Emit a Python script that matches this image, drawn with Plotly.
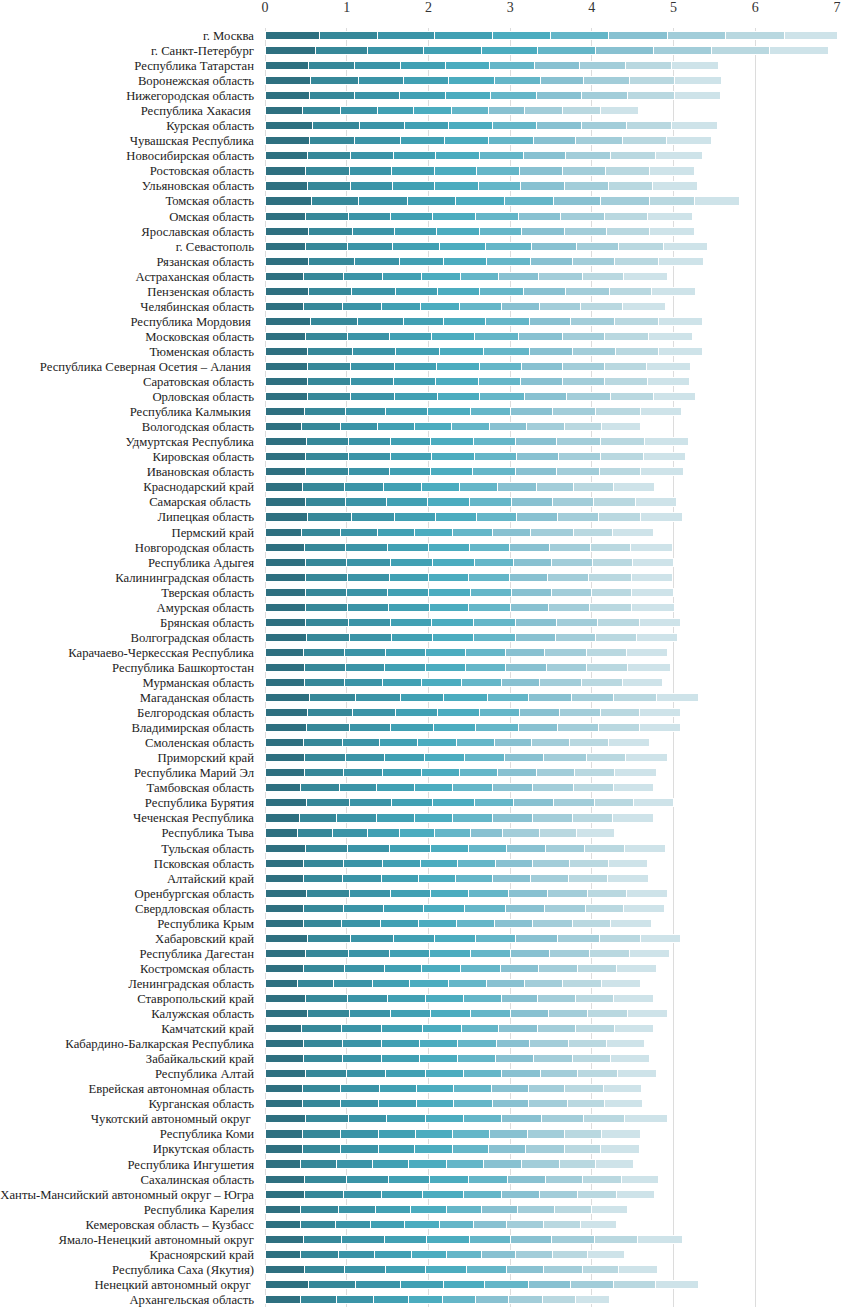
import plotly.graph_objects as go

regions = [
    "г. Москва", "г. Санкт-Петербург", "Республика Татарстан", "Воронежская область",
    "Нижегородская область", "Республика Хакасия\u00a0", "Курская область", "Чувашская Республика",
    "Новосибирская область", "Ростовская область", "Ульяновская область", "Томская область",
    "Омская область", "Ярославская область", "г. Севастополь", "Рязанская область",
    "Астраханская область", "Пензенская область", "Челябинская область", "Республика Мордовия\u00a0",
    "Московская область", "Тюменская область", "Республика Северная Осетия – Алания\u00a0",
    "Саратовская область", "Орловская область", "Республика Калмыкия\u00a0", "Вологодская область",
    "Удмуртская Республика", "Кировская область", "Ивановская область", "Краснодарский край",
    "Самарская область\u00a0", "Липецкая область", "Пермский край", "Новгородская область",
    "Республика Адыгея", "Калининградская область", "Тверская область", "Амурская область",
    "Брянская область", "Волгоградская область", "Карачаево-Черкесская Республика",
    "Республика Башкортостан", "Мурманская область", "Магаданская область", "Белгородская область",
    "Владимирская область", "Смоленская область", "Приморский край", "Республика Марий Эл",
    "Тамбовская область", "Республика Бурятия", "Чеченская Республика", "Республика Тыва",
    "Тульская область", "Псковская область", "Алтайский край", "Оренбургская область",
    "Свердловская область", "Республика Крым", "Хабаровский край", "Республика Дагестан",
    "Костромская область", "Ленинградская область", "Ставропольский край", "Калужская область",
    "Камчатский край", "Кабардино-Балкарская Республика", "Забайкальский край", "Республика Алтай",
    "Еврейская автономная область", "Курганская область", "Чукотский автономный округ\u00a0",
    "Республика Коми", "Иркутская область", "Республика Ингушетия", "Сахалинская область",
    "Ханты-Мансийский автономный округ – Югра", "Республика Карелия", "Кемеровская область – Кузбасс",
    "Ямало-Ненецкий автономный округ", "Красноярский край", "Республика Саха (Якутия)",
    "Ненецкий автономный округ\u00a0", "Архангельская область",
]

seg1 = [0.67, 0.62, 0.53, 0.56, 0.54, 0.46, 0.58, 0.54, 0.52, 0.50,
        0.52, 0.57, 0.50, 0.53, 0.50, 0.53, 0.47, 0.53, 0.47, 0.56,
        0.49, 0.52, 0.52, 0.52, 0.52, 0.48, 0.45, 0.51, 0.50, 0.50,
        0.46, 0.49, 0.52, 0.45, 0.48, 0.49, 0.49, 0.49, 0.50, 0.50,
        0.51, 0.47, 0.48, 0.48, 0.55, 0.52, 0.51, 0.47, 0.48, 0.48,
        0.44, 0.51, 0.42, 0.40, 0.49, 0.47, 0.47, 0.51, 0.47, 0.47,
        0.52, 0.50, 0.47, 0.40, 0.50, 0.52, 0.45, 0.47, 0.47, 0.49,
        0.46, 0.46, 0.50, 0.46, 0.46, 0.44, 0.48, 0.48, 0.44, 0.43,
        0.47, 0.44, 0.48, 0.53, 0.44]
seg2 = [0.71, 0.64, 0.57, 0.59, 0.56, 0.47, 0.58, 0.56, 0.53, 0.53,
        0.53, 0.58, 0.52, 0.54, 0.51, 0.56, 0.49, 0.53, 0.48, 0.57,
        0.52, 0.55, 0.53, 0.53, 0.53, 0.51, 0.47, 0.51, 0.52, 0.52,
        0.51, 0.50, 0.54, 0.47, 0.51, 0.51, 0.52, 0.51, 0.51, 0.52,
        0.52, 0.50, 0.50, 0.49, 0.56, 0.55, 0.52, 0.48, 0.51, 0.48,
        0.47, 0.52, 0.46, 0.42, 0.52, 0.49, 0.48, 0.52, 0.49, 0.47,
        0.53, 0.52, 0.50, 0.44, 0.51, 0.52, 0.49, 0.48, 0.48, 0.51,
        0.47, 0.47, 0.52, 0.47, 0.47, 0.44, 0.52, 0.48, 0.46, 0.43,
        0.47, 0.46, 0.49, 0.58, 0.44]
seg3 = [0.69, 0.68, 0.56, 0.54, 0.55, 0.45, 0.55, 0.56, 0.52, 0.52,
        0.51, 0.59, 0.52, 0.52, 0.55, 0.55, 0.48, 0.54, 0.48, 0.56,
        0.51, 0.53, 0.53, 0.52, 0.54, 0.49, 0.46, 0.52, 0.52, 0.50,
        0.48, 0.50, 0.53, 0.46, 0.51, 0.53, 0.51, 0.50, 0.50, 0.52,
        0.52, 0.50, 0.48, 0.47, 0.55, 0.53, 0.51, 0.45, 0.47, 0.48,
        0.46, 0.52, 0.48, 0.43, 0.51, 0.48, 0.47, 0.51, 0.49, 0.47,
        0.52, 0.50, 0.49, 0.47, 0.49, 0.50, 0.49, 0.47, 0.47, 0.48,
        0.47, 0.46, 0.47, 0.46, 0.46, 0.44, 0.51, 0.47, 0.45, 0.43,
        0.52, 0.44, 0.50, 0.55, 0.45]
seg4 = [0.72, 0.71, 0.55, 0.55, 0.56, 0.44, 0.53, 0.54, 0.52, 0.52,
        0.52, 0.59, 0.51, 0.51, 0.57, 0.55, 0.48, 0.51, 0.47, 0.50,
        0.52, 0.54, 0.52, 0.52, 0.52, 0.51, 0.45, 0.49, 0.50, 0.51,
        0.46, 0.50, 0.50, 0.45, 0.50, 0.52, 0.48, 0.50, 0.50, 0.50,
        0.50, 0.49, 0.50, 0.47, 0.52, 0.51, 0.52, 0.47, 0.49, 0.47,
        0.46, 0.50, 0.47, 0.40, 0.50, 0.46, 0.46, 0.48, 0.49, 0.47,
        0.50, 0.49, 0.46, 0.46, 0.46, 0.48, 0.50, 0.47, 0.47, 0.48,
        0.45, 0.46, 0.47, 0.45, 0.44, 0.44, 0.50, 0.50, 0.43, 0.42,
        0.52, 0.45, 0.50, 0.53, 0.42]
seg5 = [0.70, 0.69, 0.54, 0.57, 0.55, 0.46, 0.54, 0.54, 0.53, 0.52,
        0.53, 0.60, 0.53, 0.52, 0.57, 0.52, 0.47, 0.52, 0.48, 0.51,
        0.52, 0.54, 0.52, 0.52, 0.52, 0.52, 0.45, 0.52, 0.52, 0.51,
        0.47, 0.51, 0.50, 0.47, 0.50, 0.51, 0.49, 0.51, 0.48, 0.51,
        0.50, 0.49, 0.49, 0.49, 0.54, 0.51, 0.52, 0.47, 0.49, 0.47,
        0.47, 0.51, 0.47, 0.43, 0.47, 0.46, 0.45, 0.47, 0.50, 0.46,
        0.50, 0.50, 0.47, 0.47, 0.47, 0.50, 0.47, 0.47, 0.46, 0.47,
        0.46, 0.46, 0.47, 0.46, 0.46, 0.46, 0.48, 0.50, 0.44, 0.42,
        0.52, 0.43, 0.50, 0.50, 0.42]
seg6 = [0.71, 0.70, 0.55, 0.56, 0.56, 0.46, 0.54, 0.54, 0.54, 0.52,
        0.52, 0.60, 0.52, 0.52, 0.56, 0.54, 0.47, 0.53, 0.51, 0.54,
        0.54, 0.56, 0.52, 0.52, 0.54, 0.50, 0.47, 0.51, 0.52, 0.52,
        0.46, 0.52, 0.49, 0.48, 0.49, 0.48, 0.50, 0.51, 0.51, 0.52,
        0.51, 0.49, 0.49, 0.49, 0.51, 0.50, 0.52, 0.47, 0.49, 0.47,
        0.49, 0.48, 0.49, 0.43, 0.47, 0.46, 0.45, 0.49, 0.50, 0.47,
        0.50, 0.49, 0.49, 0.47, 0.47, 0.48, 0.46, 0.47, 0.47, 0.47,
        0.46, 0.47, 0.47, 0.45, 0.45, 0.46, 0.48, 0.47, 0.43, 0.42,
        0.50, 0.43, 0.48, 0.53, 0.41]
seg7 = [0.73, 0.71, 0.55, 0.53, 0.55, 0.43, 0.55, 0.52, 0.52, 0.53,
        0.54, 0.57, 0.52, 0.52, 0.55, 0.51, 0.49, 0.52, 0.47, 0.50,
        0.54, 0.52, 0.50, 0.51, 0.52, 0.51, 0.45, 0.51, 0.51, 0.51,
        0.48, 0.50, 0.50, 0.47, 0.49, 0.47, 0.47, 0.48, 0.47, 0.50,
        0.49, 0.48, 0.50, 0.47, 0.52, 0.49, 0.48, 0.45, 0.48, 0.47,
        0.48, 0.49, 0.48, 0.40, 0.47, 0.45, 0.47, 0.48, 0.48, 0.46,
        0.51, 0.48, 0.47, 0.46, 0.43, 0.47, 0.47, 0.41, 0.46, 0.47,
        0.45, 0.45, 0.48, 0.46, 0.45, 0.46, 0.46, 0.46, 0.44, 0.41,
        0.50, 0.42, 0.46, 0.52, 0.40]
seg8 = [0.71, 0.72, 0.56, 0.56, 0.57, 0.47, 0.55, 0.57, 0.55, 0.53,
        0.53, 0.60, 0.53, 0.52, 0.52, 0.52, 0.53, 0.53, 0.50, 0.54,
        0.52, 0.53, 0.51, 0.52, 0.54, 0.53, 0.46, 0.54, 0.52, 0.52,
        0.46, 0.50, 0.50, 0.52, 0.50, 0.50, 0.50, 0.49, 0.50, 0.50,
        0.49, 0.52, 0.50, 0.51, 0.52, 0.49, 0.50, 0.47, 0.52, 0.47,
        0.50, 0.50, 0.49, 0.45, 0.48, 0.46, 0.47, 0.49, 0.50, 0.49,
        0.51, 0.49, 0.48, 0.47, 0.47, 0.48, 0.47, 0.47, 0.48, 0.46,
        0.45, 0.47, 0.52, 0.46, 0.47, 0.46, 0.46, 0.47, 0.45, 0.45,
        0.53, 0.45, 0.47, 0.53, 0.42]
seg9 = [0.72, 0.71, 0.57, 0.55, 0.57, 0.46, 0.56, 0.54, 0.55, 0.53,
        0.54, 0.55, 0.53, 0.53, 0.55, 0.53, 0.51, 0.52, 0.52, 0.53,
        0.53, 0.52, 0.52, 0.52, 0.52, 0.54, 0.46, 0.54, 0.52, 0.50,
        0.49, 0.51, 0.52, 0.48, 0.49, 0.49, 0.52, 0.49, 0.52, 0.51,
        0.51, 0.48, 0.50, 0.50, 0.52, 0.48, 0.50, 0.47, 0.48, 0.49,
        0.49, 0.48, 0.49, 0.45, 0.49, 0.47, 0.47, 0.47, 0.47, 0.47,
        0.50, 0.49, 0.47, 0.48, 0.47, 0.49, 0.48, 0.47, 0.47, 0.48,
        0.47, 0.45, 0.50, 0.45, 0.45, 0.45, 0.47, 0.47, 0.46, 0.45,
        0.53, 0.43, 0.45, 0.51, 0.40]
seg10 = [0.64, 0.71, 0.57, 0.58, 0.57, 0.47, 0.56, 0.55, 0.57, 0.56,
         0.55, 0.56, 0.55, 0.55, 0.54, 0.56, 0.54, 0.54, 0.52, 0.54,
         0.54, 0.55, 0.54, 0.52, 0.52, 0.51, 0.47, 0.53, 0.52, 0.53,
         0.50, 0.50, 0.51, 0.51, 0.52, 0.50, 0.51, 0.52, 0.52, 0.51,
         0.50, 0.51, 0.52, 0.50, 0.52, 0.51, 0.51, 0.50, 0.51, 0.51,
         0.49, 0.49, 0.50, 0.47, 0.50, 0.48, 0.50, 0.50, 0.50, 0.50,
         0.50, 0.49, 0.49, 0.47, 0.48, 0.49, 0.48, 0.47, 0.48, 0.48,
         0.47, 0.47, 0.52, 0.47, 0.47, 0.46, 0.45, 0.47, 0.44, 0.44,
         0.55, 0.45, 0.47, 0.52, 0.42]

series = [seg1, seg2, seg3, seg4, seg5, seg6, seg7, seg8, seg9, seg10]
colors = ["#2e7080", "#368899", "#3b94a7", "#41a0b3", "#4bacbf",
          "#64b6c8", "#88c1d1", "#a2cdd9", "#b9d8e0", "#cee3e9"]

fig = go.Figure()
for i, (vals, col) in enumerate(zip(series, colors)):
    fig.add_trace(go.Bar(
        x=vals, y=regions, orientation="h", name=f"Компонент {i + 1}",
        marker=dict(color=col, line=dict(color="white", width=1)),
        showlegend=False,
    ))

serif = "Liberation Serif, DejaVu Serif, serif"
fig.update_layout(
    width=841, height=1307,
    barmode="stack", bargap=0.46,
    margin=dict(l=264, r=3, t=28, b=0),
    plot_bgcolor="white", paper_bgcolor="white",
    font=dict(family=serif, color="#222"),
    xaxis=dict(
        side="top", range=[0, 7], tickvals=[0, 1, 2, 3, 4, 5, 6, 7],
        showgrid=True, gridcolor="#dcdcdc", gridwidth=1,
        zeroline=True, zerolinecolor="#dcdcdc", zerolinewidth=1,
        tickfont=dict(family=serif, size=14, color="#333333"),
        ticks="", ticklabelstandoff=12, ticklabeloverflow="allow",
        fixedrange=True,
    ),
    yaxis=dict(
        autorange="reversed", showgrid=False, ticks="",
        tickfont=dict(family=serif, size=12.7, color="#222222"),
        ticklabelstandoff=10, fixedrange=True,
    ),
)

fig.write_html(
    "out.html",
    config={"displayModeBar": False},
    post_script="document.body.style.margin='0';document.body.style.overflow='hidden';",
)
